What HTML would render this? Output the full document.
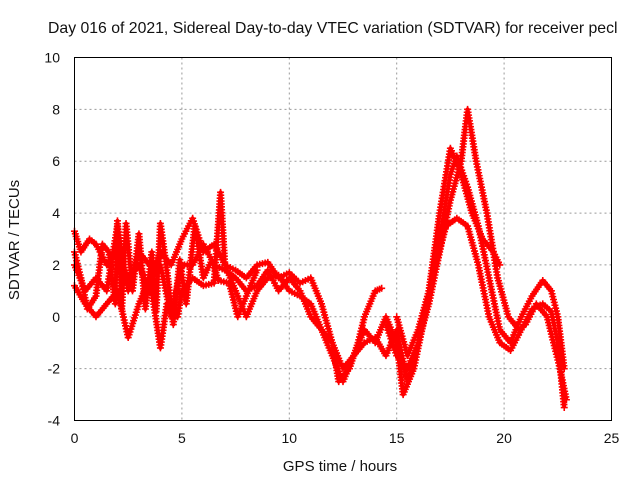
<!DOCTYPE html>
<html><head><meta charset="utf-8"><style>
body{margin:0;background:#fff}
svg{display:block;font-family:"Liberation Sans",sans-serif}
</style></head><body>
<svg id="chart" width="640" height="480">
<text x="48" y="33" font-size="15.8" fill="#111">Day 016 of 2021, Sidereal Day-to-day VTEC variation (SDTVAR) for receiver pecl</text>
<text transform="translate(19,240) rotate(-90)" text-anchor="middle" font-size="15" fill="#111">SDTVAR / TECUs</text>
<text x="340" y="471" text-anchor="middle" font-size="15" fill="#111">GPS time / hours</text>
<g id="grid"></g><g id="ticks"></g><g id="marks"></g>
<rect x="74.5" y="57.5" width="537" height="363" fill="none" stroke="#000" stroke-width="1"/>
</svg>
<script>
const xTicks=[0,5,10,15,20,25];
const yTicks=[-4,-2,0,2,4,6,8,10];
const seriesA=[[0,3.3],[0.3,2.5],[0.7,3],[1,2.8],[1.5,2],[2,2.5],[2.5,1.5],[3,2],[3.5,1],[4,2.5],[4.5,2],[5,3],[5.5,3.8],[6,2.5],[6.5,2.8],[7,2],[7.5,1.8],[8,1.5],[8.5,2],[9,2.1],[9.5,1.5],[10,1.7],[10.5,1.3],[11,1.5],[11.5,0.5],[12,-1],[12.3,-2.5],[12.8,-2],[13.2,-1],[13.5,0],[14,1],[14.3,1.1]];
const seriesB=[[0,1.2],[0.5,0.5],[1,0],[1.5,0.5],[2,1],[2.5,-0.8],[3,0.5],[3.5,1.5],[4,-1.2],[4.3,0.5],[4.8,0],[5,1],[5.5,1.5],[6,1.2],[6.5,1.3],[6.8,4.8],[7,2],[7.5,1],[8,0],[8.5,1],[9,1.5],[9.5,1.6],[10,1],[10.5,0.8],[11,0.5],[11.5,-0.5],[12,-1.5],[12.5,-2.5],[13,-1.5],[13.5,-1],[14,-0.8],[14.5,-1.5],[15,-0.5],[15.5,-2.5],[16,-1],[16.5,1],[17,4],[17.5,6.5],[18,5.5],[18.5,4],[19,3],[19.5,2.5],[19.8,2]];
const seriesC=[[0,2],[0.5,1],[1,1.5],[1.5,1],[2,3.5],[2.5,1],[3,2.5],[3.5,2],[4,2],[4.5,0],[5,2],[5.5,2],[6,2.8],[6.5,2],[7,1.8],[7.5,1.5],[8,1],[8.5,1.2],[9,1.8],[9.5,1],[10,1.5],[10.5,1],[11,0],[11.5,-0.5],[12,-1],[12.5,-2],[13,-1.5],[13.5,-0.5],[14,-1],[14.5,0],[15,-1],[15.3,-3],[15.8,-2],[16.3,0],[16.8,2],[17.3,3.5],[17.8,3.8],[18.3,3.5],[18.8,2],[19.3,0],[19.8,-1],[20.3,-1.3],[20.8,-0.5],[21.3,0.3],[21.8,0.5],[22.2,0.2],[22.5,-1],[22.8,-3.5]];
const seriesD=[[14.5,-0.3],[15,-1.5],[15.5,-2],[16,-1],[16.5,0.5],[17,2.5],[17.5,4.5],[18,6],[18.3,8],[18.7,6],[19.2,4],[19.7,1.5],[20.2,0],[20.7,-0.5],[21,-0.3],[21.5,0.5],[22,0],[22.3,-1],[22.6,-2],[22.9,-3.2]];
const seriesE=[[15,0],[15.5,-1.5],[16,-0.5],[16.5,1],[17,3],[17.5,5.5],[17.8,6.2],[18.3,5],[18.8,3.5],[19.3,1.5],[19.8,-0.5],[20.3,-1],[20.8,0],[21.3,0.8],[21.8,1.4],[22.2,1],[22.5,0],[22.8,-2]];
const seriesF=[[0,2.5],[0.3,1.5],[0.6,0.3],[1,0.8],[1.3,2.8],[1.6,2.5],[1.9,0.5],[2,3.7],[2.2,0.3],[2.4,3.6],[2.7,1],[3,3.2],[3.3,0.3],[3.6,2.5],[3.8,0.2],[4,3.6],[4.3,1.8],[4.6,-0.3],[4.9,2.2],[5.2,0.5],[5.6,3.5],[6,1.5],[6.4,2.2],[6.7,1.4],[7.2,1.3],[7.6,0],[8,0.8],[8.5,1.8]];
const allSeries=[seriesA,seriesB,seriesC,seriesD,seriesE,seriesF];
const NS="http://www.w3.org/2000/svg";
const X0=74.5,X1=611.5,Y0=420.5,Y1=57.5;
const sx=v=>X0+(v-0)/(25-0)*(X1-X0);
const sy=v=>Y0-(v+4)/(14)*(Y0-Y1);
const grid=document.getElementById('grid'),ticks=document.getElementById('ticks'),marks=document.getElementById('marks');
function mk(tag,attrs,parent){const e=document.createElementNS(NS,tag);for(const k in attrs)e.setAttribute(k,attrs[k]);parent.appendChild(e);return e;}
xTicks.forEach(t=>{
  const x=sx(t);
  if(t>0&&t<25){const g=mk('line',{x1:x,x2:x,y1:Y1,y2:Y0,stroke:'#999','stroke-dasharray':'2,3'},grid);
  
  }
  const l=mk('text',{x:x,y:443,'text-anchor':'middle','font-size':'14',fill:'#111'},ticks);l.textContent=t;
  
  
});
yTicks.forEach(t=>{
  const y=sy(t);
  if(t>-4&&t<10){const g=mk('line',{x1:X0,x2:X1,y1:y,y2:y,stroke:'#999','stroke-dasharray':'2,3'},grid);
  
  }
  const l=mk('text',{x:60,y:y+5,'text-anchor':'end','font-size':'14',fill:'#111'},ticks);l.textContent=t;
  
  
});
allSeries.forEach((s,i)=>{
  const g=mk('g',{},marks);
  
  
  let d='';
  s.forEach((p,j)=>{d+=(j?'L':'M')+sx(p[0])+','+sy(p[1]);});
  mk('path',{d:d,fill:'none',stroke:'#f00','stroke-width':4,'stroke-linejoin':'round'},g);
  let pd='';
  for(let j=0;j<s.length-1;j++){
    const ax=sx(s[j][0]),ay=sy(s[j][1]),bx=sx(s[j+1][0]),by=sy(s[j+1][1]);
    const n=Math.max(1,Math.ceil(Math.hypot(bx-ax,by-ay)/3));
    for(let k=0;k<=n;k++){const x=ax+(bx-ax)*k/n,y=ay+(by-ay)*k/n;pd+=`M${x-3.5},${y}h7M${x},${y-3.5}v7`;}
  }
  mk('path',{d:pd,stroke:'#f00','stroke-width':1.6,fill:'none'},g);
});
</script>
</body></html>
